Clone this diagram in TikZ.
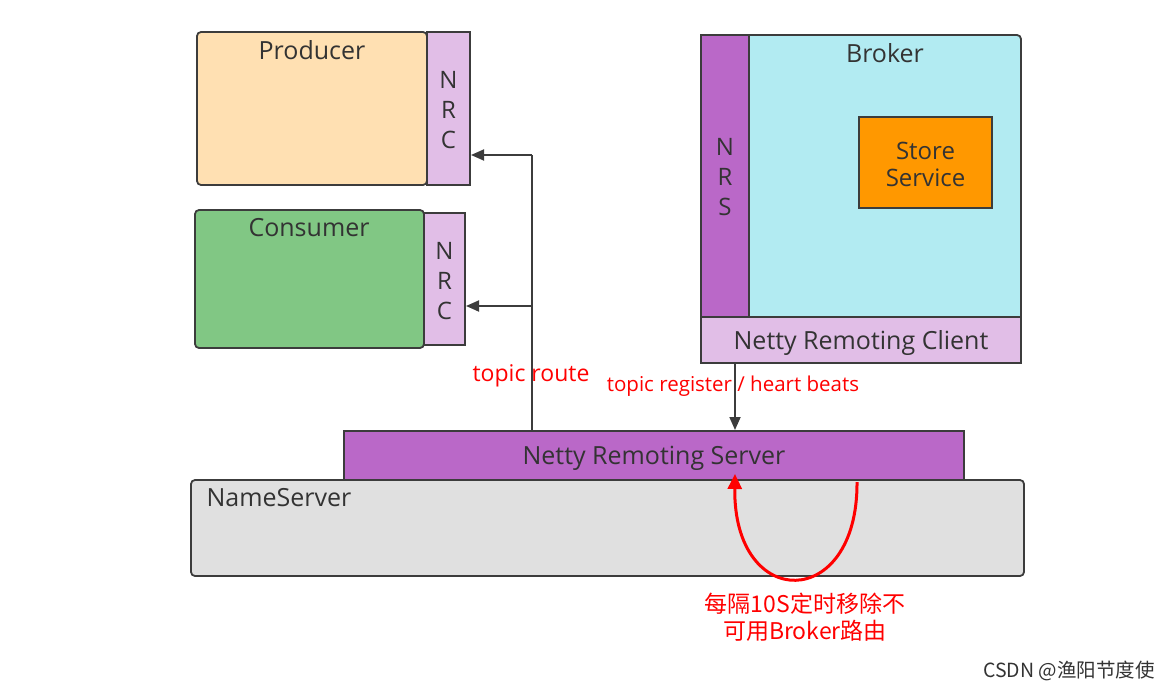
\documentclass[tikz,border=0pt]{standalone}
\usepackage{fontspec}
\setmainfont{Open Sans}
\newfontfamily\cjk{Noto Sans CJK SC}
\usetikzlibrary{arrows.meta}
\definecolor{peach}{HTML}{FFE0B2}
\definecolor{lgreen}{HTML}{81C784}
\definecolor{lpurple}{HTML}{E1BEE7}
\definecolor{dpurple}{HTML}{BA68C8}
\definecolor{lcyan}{HTML}{B2EBF2}
\definecolor{sorange}{HTML}{FF9800}
\definecolor{lgray}{HTML}{E0E0E0}
\definecolor{txt}{HTML}{333333}
\definecolor{ln}{HTML}{3C3C3C}
\tikzset{
  box/.style={draw=ln, line width=1.8pt, text=txt, inner sep=0pt},
  conn/.style={draw=ln, line width=1.8pt, -{Triangle[length=13pt,width=11pt]}},
  redlbl/.style={text=red, font=\fontsize{23}{26}\selectfont},
  lbl/.style={text=txt, font=\fontsize{25}{30}\selectfont},
  vlbl/.style={text=txt, align=center, font=\fontsize{24}{30}\selectfont}
}
\begin{document}
\begin{tikzpicture}[x=1pt,y=-1pt]
\useasboundingbox (0,0) rectangle (1168,693);
% Producer
\draw[box, fill=peach, rounded corners=4pt] (197,32) rectangle (427,185);
\node[lbl] (prod) at (312,50) {Producer};
\draw[box, fill=lpurple] (427,32) rectangle (470,185);
\node[vlbl] (nrc1) at (448.5,110) {N\\R\\C};
\coordinate (nrc1in) at (471,155);
% Consumer
\draw[box, fill=lgreen, rounded corners=4pt] (195,210) rectangle (424,348);
\node[lbl] (cons) at (309,228) {Consumer};
\draw[box, fill=lpurple] (424,213) rectangle (465,345);
\node[vlbl] (nrc2) at (444.5,281) {N\\R\\C};
\coordinate (nrc2in) at (466,306);
% Broker
\draw[box, fill=lcyan, rounded corners=4pt] (701,35) rectangle (1021,363);
\draw[box, fill=dpurple] (701,35) rectangle (749,317);
\node[vlbl] (nrs) at (725,177) {N\\R\\S};
\node[lbl] (brok) at (885,53) {Broker};
\draw[box, fill=sorange] (859,117) rectangle (992,208);
\node[vlbl, font=\fontsize{24}{27}\selectfont] (store) at (925.5,164) {Store\\Service};
\draw[box, fill=lpurple] (701,317) rectangle (1021,363);
\node[lbl] (nrcl) at (861,343) {Netty Remoting Client};
% NameServer
\draw[box, fill=lgray, rounded corners=4pt] (191,480) rectangle (1024,576);
\node[lbl, anchor=west] (ns) at (203,498) {NameServer};
\draw[box, fill=dpurple] (344,431) rectangle (964,480);
\node[lbl] (nrsv) at (654,458) {Netty Remoting Server};
% connectors
\coordinate (j0) at (532,431);
\coordinate (j1) at (532,306);
\coordinate (j2) at (532,155);
\draw[line width=1.8pt, draw=ln] (j0) -- (j2);
\draw[conn] (j2) -- (nrc1in);
\draw[conn] (j1) -- (nrc2in);
\node[redlbl] (tr) at (531,376) {topic route};
\coordinate (bsrc) at (735,363);
\coordinate (bdst) at (735,430);
\draw[conn] (bsrc) -- (bdst);
\node[text=red, font=\fontsize{20.5}{24}\selectfont] (treg) at (733,386) {topic register / heart beats};
% red loop
\coordinate (ls) at (857,482);
\coordinate (le) at (735,474);
\draw[red, line width=3pt, -{Triangle[length=15pt,width=14pt]}] (ls) .. controls (858,612) and (733,612) .. (le);
\node[text=red, align=center, font=\cjk\fontsize{23}{27}\selectfont] (cn) at (805,617) {每隔10S定时移除不\\可用Broker路由};
\node[text=txt, font=\cjk\fontsize{19.5}{22}\selectfont] (wm) at (1069,671) {CSDN @渔阳节度使};
\end{tikzpicture}
\end{document}
